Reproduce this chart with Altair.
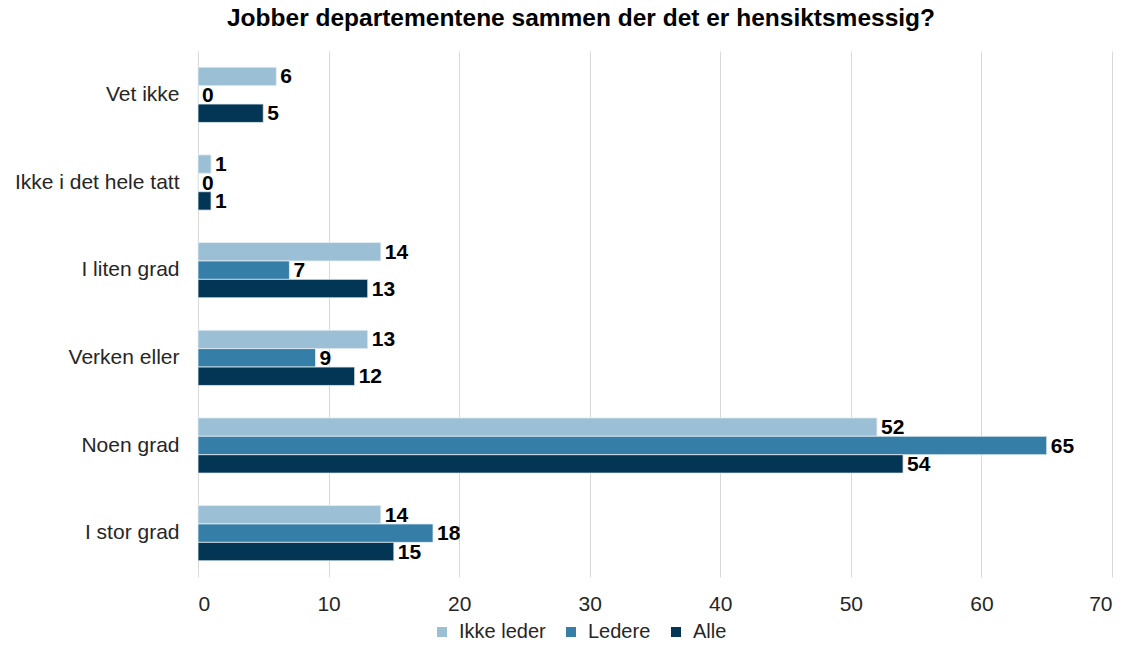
import altair as alt
import pandas as pd

categories = ["Vet ikke", "Ikke i det hele tatt", "I liten grad", "Verken eller", "Noen grad", "I stor grad"]
series = ["Ikke leder", "Ledere", "Alle"]
ikke_leder = [6, 1, 14, 13, 52, 14]
ledere = [0, 0, 7, 9, 65, 18]
alle = [5, 1, 13, 12, 54, 15]
colors = ["#9bbfd5", "#357ea8", "#033655"]

rows = []
for i, c in enumerate(categories):
    for s, vals in zip(series, [ikke_leder, ledere, alle]):
        rows.append({"kategori": c, "serie": s, "verdi": vals[i]})
df = pd.DataFrame(rows)

font = "Liberation Sans"

y_enc = alt.Y("kategori:N", sort=categories, title=None,
              scale=alt.Scale(paddingInner=0.37, paddingOuter=0.185),
              axis=alt.Axis(ticks=False, domain=False, grid=False, labelFontSize=21,
                            labelColor="#262626", labelFont=font, labelPadding=19,
                            labelLimit=300))
x_enc = alt.X("verdi:Q", title=None,
              scale=alt.Scale(domain=[0, 70], nice=False),
              axis=alt.Axis(values=list(range(0, 71, 10)), ticks=False, domain=False,
                            grid=True, gridColor="#d9d9d9", gridWidth=1,
                            labelFontSize=21, labelColor="#262626", labelFont=font,
                            labelPadding=16))
yoff = alt.YOffset("serie:N", sort=series, scale=alt.Scale(paddingInner=0))
color_enc = alt.Color("serie:N", sort=series,
                      scale=alt.Scale(domain=series, range=colors),
                      legend=alt.Legend(title=None, orient="none", direction="horizontal",
                                        legendX=234, legendY=571, symbolType="square",
                                        symbolSize=100, labelFontSize=20, labelFont=font,
                                        labelColor="#262626", columnPadding=15,
                                        labelOffset=7, symbolStrokeWidth=0))

bars = alt.Chart(df).mark_bar(stroke="#e6eef4", strokeWidth=0.8).encode(
    y=y_enc, x=x_enc, yOffset=yoff, color=color_enc
)
labels = alt.Chart(df).mark_text(align="left", baseline="middle", dx=4, dy=1,
                                 fontSize=21, fontWeight="bold", font=font,
                                 color="#000000").encode(
    y=alt.Y("kategori:N", sort=categories),
    x=alt.X("verdi:Q"),
    yOffset=alt.YOffset("serie:N", sort=series),
    text="verdi:Q",
)

chart = alt.layer(bars, labels).properties(
    width=914, height=526,
    background="white",
    title=alt.TitleParams("Jobber departementene sammen der det er hensiktsmessig?",
                          fontSize=24.5, font=font, fontWeight="bold", color="#000000",
                          anchor="middle", dx=-74, offset=20),
    autosize=alt.AutoSizeParams(type="none"),
    padding={"left": 190, "top": 43, "right": 12, "bottom": 67},
).configure_view(stroke=None, strokeWidth=0)

chart.save("out.html", embed_options={"renderer": "svg", "actions": False})
